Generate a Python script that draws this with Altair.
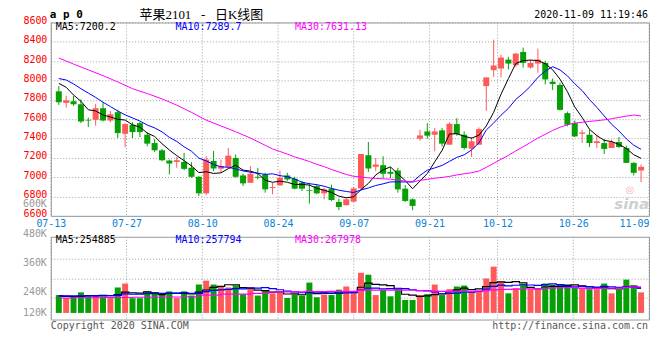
import altair as alt
import pandas as pd

# ---------------- data (one candle per trading day, 07-13 .. 11-09) -------------
opens = [7888, 7768, 7785, 7754, 7593, 7593, 7713, 7586, 7672, 7449,
         7542, 7559, 7439, 7353, 7278, 7172, 7158, 7158, 7097, 7004,
         6833, 7168, 7088, 7107, 7199, 7018, 6942, 7004, 7028, 6888,
         6915, 7018, 6984, 6942, 6864, 6908, 6833, 6881, 6744, 6710,
         6747, 6884, 7227, 7107, 7124, 7055, 7069, 6881, 6771, 7398,
         7473, 7439, 7484, 7336, 7549, 7439, 7295, 7336, 7942, 8107,
         8124, 8216, 8158, 8295, 8134, 8175, 8182, 7987, 7953, 7662,
         7559, 7449, 7439, 7353, 7353, 7302, 7364, 7302, 7148, 7069]
highs = [7942, 7843, 7843, 7805, 7617, 7758, 7771, 7686, 7696, 7559,
         7569, 7569, 7463, 7395, 7292, 7182, 7210, 7251, 7155, 7011,
         7216, 7270, 7182, 7302, 7234, 7038, 7114, 7097, 7045, 6942,
         7069, 7045, 7004, 6960, 6942, 6925, 6891, 6922, 6778, 6788,
         6901, 7240, 7364, 7199, 7216, 7103, 7097, 6918, 6781, 7490,
         7559, 7508, 7508, 7566, 7610, 7473, 7415, 7514, 8032, 8422,
         8268, 8244, 8285, 8340, 8216, 8329, 8203, 8021, 7977, 7679,
         7586, 7490, 7490, 7439, 7395, 7388, 7415, 7326, 7155, 7131]
lows = [7747, 7720, 7737, 7559, 7518, 7532, 7576, 7566, 7405, 7312,
        7405, 7415, 7319, 7261, 7165, 7028, 7097, 7073, 6994, 6805,
        6812, 7062, 7050, 7100, 6994, 6908, 6942, 6977, 6840, 6823,
        6908, 6960, 6874, 6857, 6727, 6823, 6771, 6754, 6658, 6710,
        6744, 6874, 7055, 7062, 6991, 6991, 6840, 6744, 6658, 7377,
        7398, 7268, 7319, 7336, 7429, 7285, 7210, 7336, 7686, 8038,
        8032, 8114, 8141, 8134, 8124, 8079, 7960, 7901, 7689, 7525,
        7415, 7353, 7312, 7302, 7240, 7302, 7302, 7148, 7018, 6949]
closes = [7775, 7795, 7754, 7576, 7586, 7713, 7586, 7651, 7456, 7549,
          7466, 7466, 7347, 7278, 7175, 7141, 7175, 7086, 7004, 6833,
          7182, 7090, 7114, 7223, 7004, 6936, 7035, 6994, 6874, 6898,
          6994, 6977, 6881, 6881, 6857, 6833, 6874, 6764, 6692, 6771,
          6884, 7240, 7090, 7131, 7035, 7035, 6874, 6754, 6703, 7432,
          7429, 7473, 7347, 7552, 7446, 7302, 7371, 7497, 8032, 8155,
          8237, 8175, 8278, 8182, 8182, 8216, 8011, 7963, 7696, 7542,
          7422, 7463, 7353, 7371, 7292, 7364, 7312, 7148, 7045, 7107]
volumes_k = [229, 217, 223, 240, 224, 229, 223, 217, 260, 276,
             216, 216, 244, 240, 236, 244, 217, 244, 227, 272,
             288, 272, 264, 260, 267, 233, 260, 227, 247, 236,
             240, 217, 231, 227, 280, 220, 231, 229, 251, 264,
             240, 320, 312, 229, 251, 224, 249, 209, 209, 229,
             233, 272, 229, 253, 264, 268, 243, 244, 297, 345,
             284, 236, 257, 273, 253, 251, 276, 271, 272, 272,
             260, 257, 253, 253, 276, 236, 251, 292, 269, 240]

# moving-average values at the left edge (they depend on days before the window)
ma5_head = [7970, 7930, 7850, 7785]
ma10_head = [8020, 8005, 7965, 7915, 7870, 7825, 7775, 7730, 7685]
ma30_head_idx = [0, 2, 4, 6, 8, 10, 12, 14, 16, 18, 20, 22, 24, 26, 28]
ma30_head = [8232, 8170, 8110, 8050, 7985, 7915, 7865, 7810, 7745, 7670, 7590, 7530, 7470, 7405, 7330]
vma5_head = [226000, 224000, 223000, 224000]
vma10_head = [227000, 226000, 226000, 226000, 226000, 226000, 226000, 227000, 228000]
vma30_head_idx = [0, 4, 8, 12, 16, 18, 20, 24, 28]
vma30_head = [217000, 218000, 219000, 220000, 221000, 222000, 229000, 233000, 236000]

price_ticks = [6600, 6800, 7000, 7200, 7400, 7600, 7800, 8000, 8200, 8400, 8600]
date_tick_idx = [0, 10, 20, 30, 40, 50, 59, 69, 79]
date_tick_lab = ["07-13", "07-27", "08-10", "08-24", "09-07", "09-21", "10-12", "10-26", "11-09"]
vol_grid = [218000, 298000, 378000]
vol_lab_vals = [600000, 480000, 360000, 240000, 120000]
vol_lab_txt = ["600K", "480K", "360K", "240K", "120K"]
ma_colors = ["#000000", "#0000ff", "#ff00ff"]
price_legend = ["MA5:7200.2", "MA10:7289.7", "MA30:7631.13"]
vol_legend = ["MA5:254885", "MA10:257794", "MA30:267978"]
header_left = "a p 0"
header_title = "苹果2101\u00a0\u00a0\u00a0-\u00a0\u00a0\u00a0日K线图"
header_time = "2020-11-09 11:19:46"
footer_left = "Copyright 2020 SINA.COM"
footer_right = "http://finance.sina.com.cn"

# ---------------- styling ----------------
MONO = "DejaVu Sans Mono"
RED = "#ff5a5a"
GREEN = "#05a005"
GRID = "#a0a0a0"
W, HP, HV = 600, 194, 83
VOL_BASE = 156000

n = len(closes)
idx = list(range(n))
cdf = pd.DataFrame({"i": idx, "open": opens, "high": highs, "low": lows,
                    "close": closes, "vol": [v * 1000 for v in volumes_k]})


def ma_frame(values, win, head_idx, head_vals):
    s = pd.Series(values, dtype=float).rolling(win).mean()
    comp = pd.DataFrame({"i": idx, "v": s}).dropna()
    head = pd.DataFrame({"i": head_idx, "v": head_vals})
    return pd.concat([head, comp], ignore_index=True)


vols = list(cdf["vol"])
price_ma = [ma_frame(closes, 5, list(range(4)), ma5_head),
            ma_frame(closes, 10, list(range(9)), ma10_head),
            ma_frame(closes, 30, ma30_head_idx, ma30_head)]
vol_ma = [ma_frame(vols, 5, list(range(4)), vma5_head),
          ma_frame(vols, 10, list(range(9)), vma10_head),
          ma_frame(vols, 30, vma30_head_idx, vma30_head)]

xs = alt.Scale(domain=[-0.4, n - 1 + 0.4], nice=False, zero=False)
gs = alt.Scale(domain=[0, n - 1], nice=False, zero=False)
ps = alt.Scale(domain=[6600, 8600], nice=False, zero=False)
vs = alt.Scale(domain=[129000, 467000], nice=False, zero=False)
X = alt.X("i:Q", scale=xs, axis=None)
updown = alt.condition("datum.close >= datum.open", alt.value(RED), alt.value(GREEN))

pax = alt.Axis(values=price_ticks, format="d", title=None, grid=True, gridColor=GRID, gridDash=[1, 2],
               ticks=False, tickSize=0, domain=False, labelColor="#ff0000", labelFont=MONO,
               labelFontSize=10, labelPadding=4, labelBaseline="alphabetic", labelOffset=1)
vax = alt.Axis(values=vol_grid, title=None, grid=True, gridColor=GRID, gridDash=[1, 2],
               labels=False, ticks=False, tickSize=0, domain=False)

label_expr = "({" + ",".join(f"'{i}':'{l}'" for i, l in zip(date_tick_idx, date_tick_lab)) + "})[datum.value]"
xax = alt.Axis(values=date_tick_idx, labelExpr=label_expr, title=None, grid=False, ticks=False,
               tickSize=0, domain=False, labelColor="#0a84d6", labelFont=MONO, labelFontSize=10,
               labelPadding=3, labelFlush=False, orient="bottom",
               labelAlign={"condition": {"test": f"datum.value == {date_tick_idx[-1]}", "value": "right"},
                           "value": "center"})

tick_df = pd.DataFrame({"i": date_tick_idx, "lab": date_tick_lab})


def label(text, x, y, color="#000000", size=10, align="left", font=MONO, weight="normal", style="normal"):
    return alt.Chart(pd.DataFrame({"t": [text]})).mark_text(
        align=align, baseline="middle", font=font, fontSize=size, color=color,
        fontWeight=weight, fontStyle=style).encode(x=alt.value(x), y=alt.value(y), text="t:N")


# ---------------- price panel ----------------
vgrid_p = alt.Chart(tick_df).mark_rule(color=GRID, strokeDash=[1, 2]).encode(
    x=alt.X("i:Q", scale=gs, axis=xax))
wicks = alt.Chart(cdf).mark_rule(strokeWidth=1).encode(
    x=X, y=alt.Y("low:Q", scale=ps, axis=pax), y2="high:Q", color=updown)
bodies = alt.Chart(cdf).mark_bar(size=6).encode(
    x=X, y=alt.Y("open:Q", scale=ps, axis=pax), y2="close:Q", color=updown)
plines = [alt.Chart(df).mark_line(color=c, strokeWidth=1).encode(
    x=X, y=alt.Y("v:Q", scale=ps, axis=pax)) for df, c in zip(price_ma, ma_colors)]
plegend = [label(t, 5 + 120 * k, 5, color=c) for k, (t, c) in enumerate(zip(price_legend, ma_colors))]
header = [label(header_left, -1, -7, size=11, weight="bold"),
          label(header_title, 151, -7, size=13, align="center", font="Liberation Serif, Noto Sans CJK SC"),
          label(header_time, 599, -7, align="right")]
logo = label("◎", 581, 168.5, color="#f5b5b5", size=10, align="center", font="DejaVu Sans", weight="bold")
watermark = label("sina", 600, 182, color="#cfcfcf", size=15, align="right", font="DejaVu Sans",
                  weight="bold", style="italic")

price = alt.layer(
    vgrid_p,
    alt.layer(wicks, bodies, *plines, *plegend, *header, logo, watermark)
).resolve_scale(x="independent").properties(width=W, height=HP)

# ---------------- volume panel ----------------
vgrid_v = alt.Chart(tick_df).mark_rule(color=GRID, strokeDash=[1, 2]).encode(
    x=alt.X("i:Q", scale=gs, axis=None))
bars = alt.Chart(cdf).mark_bar(size=6).encode(
    x=X, y=alt.Y("vol:Q", scale=vs, axis=vax), y2=alt.datum(VOL_BASE), color=updown)
vlines = [alt.Chart(df).mark_line(color=c, strokeWidth=1.2, interpolate="step").encode(
    x=X, y=alt.Y("v:Q", scale=vs, axis=vax)) for df, c in zip(vol_ma, ma_colors)]
vlabels = alt.Chart(pd.DataFrame({"v": vol_lab_vals, "t": vol_lab_txt})).transform_calculate(
    yv=f"max(datum.v, {VOL_BASE})").mark_text(
    align="right", baseline="middle", font=MONO, fontSize=10, color="#999999").encode(
    x=alt.value(-4), y=alt.Y("yv:Q", scale=vs, axis=vax), text="t:N")
vlegend = [label(t, 5 + 120 * k, 3.5, color=c) for k, (t, c) in enumerate(zip(vol_legend, ma_colors))]
footer = [label(footer_left, 0, 89.5, color="#555555"),
          label(footer_right, 599, 89.5, color="#555555", align="right")]

volume = alt.layer(
    vgrid_v,
    alt.layer(bars, *vlines, vlabels, *vlegend, *footer)
).resolve_scale(x="independent").properties(width=W, height=HV)

chart = alt.vconcat(price, volume, spacing=21, bounds="flush").properties(
    padding={"left": 14, "top": 0, "right": 2, "bottom": 2}
).configure_view(stroke="#999999", strokeWidth=1)

chart.save("out.html", embed_options={"renderer": "svg", "actions": False})
